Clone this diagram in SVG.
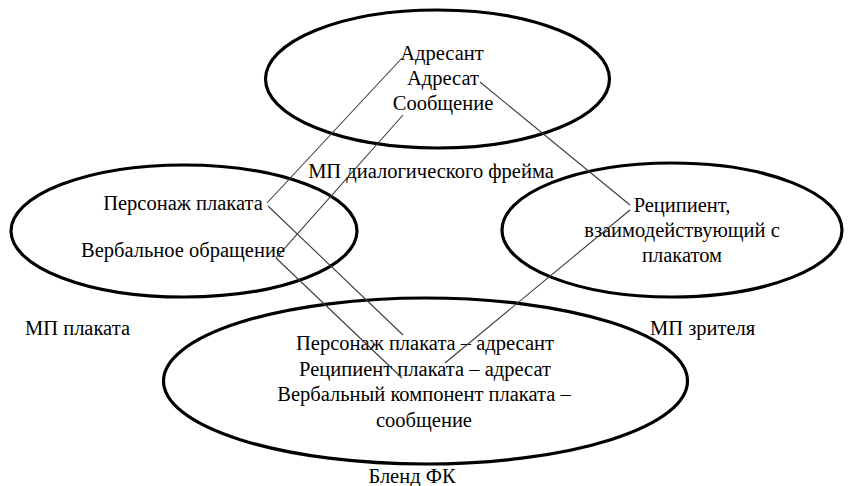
<svg xmlns="http://www.w3.org/2000/svg" width="854" height="486" viewBox="0 0 854 486" font-family="Liberation Serif, DejaVu Serif, serif" font-size="20.5">
<style>
.el{fill:none;stroke:#000;stroke-width:3.2}
text{font-family:"Liberation Serif","DejaVu Serif",serif;font-size:20.5px;fill:#000}
.t{text-anchor:middle}
.c{stroke:#3c3c3c;stroke-width:1.1;fill:none}
</style>
<rect width="854" height="486" fill="#fff"/>
<g id="frame">
<ellipse class="el" cx="437.5" cy="79" rx="172" ry="69"/>
<text class="t" x="442" y="60">Адресант</text>
<text class="t" x="443" y="85">Адресат</text>
<text class="t" x="443" y="110">Сообщение</text>
<text class="t" x="431" y="178">МП диалогического фрейма</text>
</g>
<g id="poster">
<ellipse class="el" cx="184" cy="231" rx="173" ry="66"/>
<text class="t" x="183" y="210">Персонаж плаката</text>
<text class="t" x="183" y="257">Вербальное обращение</text>
<text x="25" y="335">МП плаката</text>
</g>
<g id="viewer">
<ellipse class="el" cx="672" cy="230" rx="170" ry="67"/>
<text class="t" x="682" y="212">Реципиент,</text>
<text class="t" x="682" y="237">взаимодействующий с</text>
<text class="t" x="682" y="262">плакатом</text>
<text x="650" y="335">МП зрителя</text>
</g>
<g id="blend">
<ellipse class="el" cx="425.5" cy="381" rx="262" ry="83"/>
<text class="t" x="425" y="350">Персонаж плаката – адресант</text>
<text class="t" x="425" y="376">Реципиент плаката – адресат</text>
<text class="t" x="424" y="401">Вербальный компонент плаката –</text>
<text class="t" x="424" y="427">сообщение</text>
<text class="t" x="412" y="483">Бленд ФК</text>
</g>
<g id="connectors">
<line class="c" x1="402" y1="58" x2="267" y2="203"/>
<line class="c" x1="403" y1="115" x2="276" y2="258"/>
<line class="c" x1="480" y1="82" x2="630" y2="205"/>
<line class="c" x1="630" y1="210" x2="445" y2="363"/>
<line class="c" x1="268" y1="206" x2="403" y2="335"/>
<line class="c" x1="276" y1="258" x2="402" y2="378"/>
</g>
</svg>
